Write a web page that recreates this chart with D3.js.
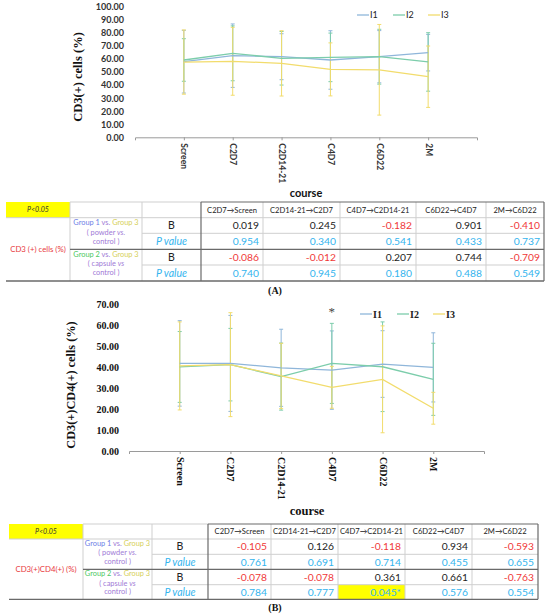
<!DOCTYPE html>
<html><head><meta charset="utf-8">
<script src="https://cdn.jsdelivr.net/npm/d3@7"></script>
<style>body{margin:0;background:#fff}</style>
</head><body>
<script>
// ---------------- DATA ----------------
const categories = ["Screen","C2D7","C2D14-21","C4D7","C6D22","2M"];
const seriesNames = ["I1","I2","I3"];

// Panel A: CD3(+) cells (%)  mean and error
const aI1 = [57.9, 62.5, 61.7, 59.2, 61.7, 64.8];
const aI2 = [59.2, 64.3, 60.5, 61.2, 61.7, 57.7];
const aI3 = [57.6, 58.2, 56.6, 52.0, 51.7, 46.4];
const aI1err = [24.0, 24.3, 17.6, 22.4, 20.0, 14.0];
const aI2err = [16.3, 21.0, 20.5, 18.6, 21.0, 22.4];
const aI3err = [24.6, 26.0, 25.0, 20.3, 34.7, 23.5];
const aTicks = [0,10,20,30,40,50,60,70,80,90,100];

// Panel B: CD3(+)CD4(+) cells (%)
const bI1 = [41.8, 41.8, 39.7, 38.6, 41.5, 39.9];
const bI2 = [40.1, 41.2, 35.5, 41.8, 40.2, 34.2];
const bI3 = [40.6, 41.2, 35.8, 30.4, 34.2, 20.4];
const bI1err = [20.4, 22.9, 18.4, 18.7, 15.9, 16.5];
const bI2err = [16.9, 17.3, 16.0, 19.1, 21.4, 17.2];
const bI3err = [21.0, 24.8, 15.6, 10.0, 25.5, 7.6];
const bTicks = [0,10,20,30,40,50,60,70];

// Tables
const transitions = ["C2D7\u2192Screen","C2D14-21\u2192C2D7","C4D7\u2192C2D14-21","C6D22\u2192C4D7","2M\u2192C6D22"];
const tA_g1B = [0.019, 0.245, -0.182, 0.901, -0.410];
const tA_g1P = [0.954, 0.340, 0.541, 0.433, 0.737];
const tA_g2B = [-0.086, -0.012, 0.207, 0.744, -0.709];
const tA_g2P = [0.740, 0.945, 0.180, 0.488, 0.549];
const tB_g1B = [-0.105, 0.126, -0.118, 0.934, -0.593];
const tB_g1P = [0.761, 0.691, 0.714, 0.455, 0.655];
const tB_g2B = [-0.078, -0.078, 0.361, 0.661, -0.763];
const tB_g2P = [0.784, 0.777, 0.045, 0.576, 0.554];

// ---------------- DRAWING ----------------
const svg = d3.select("body").append("svg").attr("width",550).attr("height",615);
const colors = {I1:"#8fb6da", I2:"#7ccdab", I3:"#f2dc6c"};

function drawChart(o){
  const g = svg.append("g");
  const x = d3.scalePoint().domain(categories).range([o.x0,o.x1]).padding(1);
  const y = d3.scaleLinear().domain([0,o.ymax]).range([o.y0,o.y1]);

  const ya = g.append("g").attr("transform",`translate(${o.tickX},0)`)
    .call(d3.axisLeft(y).tickValues(o.ticks).tickFormat(d=>d.toFixed(2)).tickSize(0).tickPadding(0));
  ya.select(".domain").remove();
  ya.selectAll("text").attr("font-family",o.font).attr("font-weight","bold")
    .attr("font-size",o.tickSize).attr("fill",o.tickColor);

  const xa = g.append("g").attr("transform",`translate(0,${o.y0})`)
    .call(d3.axisBottom(x).tickSize(3).tickSizeOuter(3));
  xa.select(".domain").attr("stroke","#9a9a9a");
  xa.selectAll(".tick line").attr("stroke","#9a9a9a");
  xa.selectAll("text").attr("transform","rotate(90)").attr("x",6).attr("y",0).attr("dy","0.35em")
    .attr("text-anchor","start").attr("font-family",o.font).attr("font-weight","bold")
    .attr("font-size",o.catSize).attr("fill",o.tickColor);

  o.series.forEach((s,i)=>{
    const c = colors[seriesNames[i]];
    const eb = g.append("g").attr("stroke",c).attr("stroke-width",1);
    categories.forEach((cat,j)=>{
      const cx = x(cat), lo = y(s.v[j]-s.e[j]), hi = y(s.v[j]+s.e[j]);
      eb.append("line").attr("x1",cx).attr("x2",cx).attr("y1",lo).attr("y2",hi);
      eb.append("line").attr("x1",cx-2).attr("x2",cx+2).attr("y1",lo).attr("y2",lo);
      eb.append("line").attr("x1",cx-2).attr("x2",cx+2).attr("y1",hi).attr("y2",hi);
    });
  });
  const line = d3.line().x((d,j)=>x(categories[j])).y(d=>y(d));
  o.series.forEach((s,i)=>{
    g.append("path").attr("d",line(s.v)).attr("fill","none")
      .attr("stroke",colors[seriesNames[i]]).attr("stroke-width",1.3);
  });

  g.append("text").attr("transform",`translate(${o.ylabX},${o.ylabY}) rotate(-90)`)
    .attr("text-anchor","middle").attr("font-family","Liberation Serif").attr("font-weight","bold")
    .attr("font-size",o.ylabSize).attr("fill","#111").text(o.ylab);
  g.append("text").attr("x",o.xlabX).attr("y",o.xlabY).attr("text-anchor","middle")
    .attr("font-family",o.font).attr("font-weight","bold").attr("font-size",o.xlabSize)
    .attr("fill","#111").text("course");

  const lg = g.append("g");
  seriesNames.forEach((n,i)=>{
    const lx = o.legX[i];
    lg.append("line").attr("x1",lx).attr("x2",lx+12).attr("y1",o.legY).attr("y2",o.legY)
      .attr("stroke",colors[n]).attr("stroke-width",1.3);
    lg.append("text").attr("x",lx+13).attr("y",o.legY).attr("dy","0.35em")
      .attr("font-family",o.legFont).attr("font-weight",o.legWeight).attr("font-size",o.legSize)
      .attr("fill","#222").text(n);
  });
  return {x,y,g};
}

drawChart({
  x0:135, x1:477, y0:137.3, y1:6.7, ymax:100, ticks:aTicks, tickX:124,
  font:"Lato", tickSize:9, catSize:8.5, tickColor:"#333",
  series:[{v:aI1,e:aI1err},{v:aI2,e:aI2err},{v:aI3,e:aI3err}],
  ylab:"CD3(+) cells (%)", ylabX:82, ylabY:77, ylabSize:12.5,
  xlabX:306, xlabY:197, xlabSize:11,
  legX:[357,393,428], legY:15, legFont:"Lato", legWeight:"normal", legSize:9
});

const cb = drawChart({
  x0:129, x1:484, y0:451, y1:304.3, ymax:70, ticks:bTicks, tickX:119,
  font:"Liberation Serif", tickSize:10, catSize:10, tickColor:"#111",
  series:[{v:bI1,e:bI1err},{v:bI2,e:bI2err},{v:bI3,e:bI3err}],
  ylab:"CD3(+)CD4(+) cells (%)", ylabX:75, ylabY:385, ylabSize:12.3,
  xlabX:307, xlabY:515, xlabSize:12.5,
  legX:[360,397,433], legY:314, legFont:"Liberation Serif", legWeight:"bold", legSize:10
});
cb.g.append("text").attr("x",cb.x("C4D7")).attr("y",316).attr("text-anchor","middle")
  .attr("font-family","Liberation Serif").attr("font-size",13).attr("fill","#444").text("*");

function drawTable(o){
  const g = svg.append("g").attr("font-family","Lato");
  const C = o.cols, R = o.rows;
  const light = "#cfcfcf", dark = "#6a6a6a";
  g.append("rect").attr("x",C[0]).attr("y",R[0]).attr("width",C[1]-C[0]).attr("height",R[1]-R[0]).attr("fill","#ffff00");
  [o.g1P,o.g2P].forEach((arr,gi)=>{
    arr.forEach((p,j)=>{
      if(p<0.05){
        const r = 2+gi*2;
        g.append("rect").attr("x",C[3+j]).attr("y",R[r]).attr("width",C[4+j]-C[3+j]).attr("height",R[r+1]-R[r]).attr("fill","#ffff00");
      }
    });
  });
  const hl = (x1,x2,yy,c,w)=>g.append("line").attr("x1",x1).attr("x2",x2).attr("y1",yy).attr("y2",yy).attr("stroke",c).attr("stroke-width",w||1);
  const vl = (xx,y1,y2,c,w)=>g.append("line").attr("x1",xx).attr("x2",xx).attr("y1",y1).attr("y2",y2).attr("stroke",c).attr("stroke-width",w||1);
  hl(C[1],C[3],R[0],light);
  hl(C[0],C[C.length-1],R[1],light);
  hl(C[2],C[C.length-1],R[2],light);
  hl(C[2],C[C.length-1],R[4],light);
  vl(C[1],R[0],R[5],light); vl(C[2],R[0],R[5],light);
  for(let j=4;j<C.length-1;j++) vl(C[j],R[0],R[5],light);
  hl(C[3],C[C.length-1],R[0],dark,1.2);
  hl(C[1],C[C.length-1],R[3],dark,1.2);
  hl(C[0],C[C.length-1],R[5],dark,1.3);
  vl(C[3],R[0],R[5],dark,1.2);
  vl(C[C.length-1],R[0],R[5],dark,1.2);

  g.append("text").attr("x",(C[0]+C[1])/2).attr("y",(R[0]+R[1])/2).attr("dy","0.35em")
    .attr("text-anchor","middle").attr("font-size",7).attr("font-style","italic").attr("fill","#333").text("P<0.05");
  transitions.forEach((t,j)=>{
    g.append("text").attr("x",(C[3+j]+C[4+j])/2).attr("y",(R[0]+R[1])/2).attr("dy","0.35em")
      .attr("text-anchor","middle").attr("font-size",7.6).attr("fill","#222").text(t);
  });
  g.append("text").attr("x",(C[0]+C[1])/2).attr("y",R[3]).attr("dy","0.35em")
    .attr("text-anchor","middle").attr("font-size",o.rowLabelSize).attr("fill","#e8383d").text(o.rowLabel);
  const purple = "#a07ad6";
  [["Group 1","#6e80e6","powder"],["Group 2","#4cc862","capsule"]].forEach((gr,gi)=>{
    const top = R[1+gi*2], cx = (C[1]+C[2])/2, sp = (R[3]-R[1])/3.3;
    const t1 = g.append("text").attr("x",cx).attr("y",top+sp*0.5).attr("dy","0.35em").attr("text-anchor","middle").attr("font-size",7.4);
    t1.append("tspan").attr("fill",gr[1]).text(gr[0]);
    t1.append("tspan").attr("fill",purple).text(" vs. ");
    t1.append("tspan").attr("fill","#d6d05a").text("Group 3");
    const t2 = g.append("text").attr("x",cx).attr("y",top+sp*1.5).attr("dy","0.35em").attr("text-anchor","middle").attr("font-size",7.4).attr("fill",purple);
    t2.append("tspan").text("( "+gr[2]+" ");
    t2.append("tspan").attr("font-style","italic").text(gi===0?"vs.":"vs");
    g.append("text").attr("x",cx).attr("y",top+sp*2.45).attr("dy","0.35em").attr("text-anchor","middle").attr("font-size",7.4).attr("fill",purple).text("control )");
  });
  const rowsData = [o.g1B,o.g1P,o.g2B,o.g2P];
  rowsData.forEach((arr,ri)=>{
    const cy = (R[1+ri]+R[2+ri])/2, isP = ri%2===1;
    g.append("text").attr("x",(C[2]+C[3])/2).attr("y",cy).attr("dy","0.36em").attr("text-anchor","middle")
      .attr("font-size",10.5).attr("font-style",isP?"italic":"normal")
      .attr("fill",isP?"#33b4ee":"#222").text(isP?"P value":"B");
    arr.forEach((v,j)=>{
      const txt = v.toFixed(3) + (isP && v<0.05 ? "*" : "");
      g.append("text").attr("x",C[4+j]-4).attr("y",cy).attr("dy","0.36em").attr("text-anchor","end")
        .attr("font-size",10.3).attr("fill",isP?"#33b4ee":(v<0?"#f03838":"#222")).text(txt);
    });
  });
  g.append("text").attr("x",275).attr("y",o.capY).attr("dy","0.35em").attr("text-anchor","middle")
    .attr("font-family","Liberation Serif").attr("font-weight","bold").attr("font-size",10).attr("fill","#111").text(o.caption);
}

drawTable({cols:[6,70,142,201,263,340,416,486,544], rows:[202,217.7,233.3,249.3,265,281],
  g1B:tA_g1B,g1P:tA_g1P,g2B:tA_g2B,g2P:tA_g2P, rowLabel:"CD3 (+) cells (%)", rowLabelSize:7.8, caption:"(A)", capY:290});
drawTable({cols:[9,83,152,208,271,338,405,472,538], rows:[524,539,554.3,569.3,584.7,599.3],
  g1B:tB_g1B,g1P:tB_g1P,g2B:tB_g2B,g2P:tB_g2P, rowLabel:"CD3(+)CD4(+) (%)", rowLabelSize:7.8, caption:"(B)", capY:607});
</script>
</body></html>
